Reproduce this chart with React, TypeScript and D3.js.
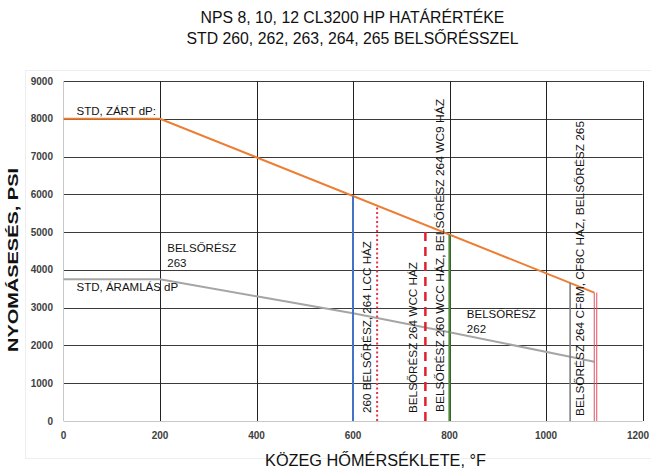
import React from "react";
import * as d3 from "d3";

const titleLines = ["NPS 8, 10, 12 CL3200 HP HATÁRÉRTÉKE", "STD 260, 262, 263, 264, 265 BELSŐRÉSSZEL"];
const xTicks = [0, 200, 400, 600, 800, 1000, 1200];
const yTicks = [0, 1000, 2000, 3000, 4000, 5000, 6000, 7000, 8000, 9000];

const closedTemps = [0, 200, 1100];
const closedDP = [8000, 8000, 3400];
const flowTemps = [0, 200, 400, 600, 800, 1050, 1100];
const flowDP = [3750, 3750, 3300, 2850, 2350, 1700, 1570];

const limitTemps = [600, 650, 750, 800, 1050, 1100];
const limitTops = [5950, 5700, 5050, 4930, 3650, 3400];
const limitColors = ["#4472C4", "#E8334A", "#E0202E", "#4E8A3A", "#7F7F7F", "#E05060"];
const limitDash = ["", "2,2.5", "9,6", "", "", ""];
const limitWidth = [2, 2, 2.5, 2.2, 1.6, 1];

const vLabels = [
  "260 BELSŐRÉSZ, 264 LCC HÁZ",
  "BELSŐRÉSZ 264 WCC HÁZ",
  "BELSŐRÉSZ 260 WCC HÁZ, BELSŐRÉSZ 264 WC9 HÁZ",
  "BELSŐRÉSZ 264 CF8M, CF8C HÁZ, BELSŐRÉSZ 265",
];
const vLabelTemps = [629, 724, 780, 1070];

const FONT = "'Liberation Sans', Arial, sans-serif";

export default function App() {
  const W = 651, H = 468;
  const x = d3.scaleLinear().domain([0, 1200]).range([63.5, 642.5]);
  const y = d3.scaleLinear().domain([0, 9000]).range([421, 81]);
  const line = d3.line<[number, number]>().x(d => x(d[0])).y(d => y(d[1]));
  const closed = closedTemps.map((t, i) => [t, closedDP[i]] as [number, number]);
  const flow = flowTemps.map((t, i) => [t, flowDP[i]] as [number, number]);
  const vLens = [172, 151, 313, 295];
  const vBottoms = [413, 413, 412, 416];

  return (
    <div style={{ position: "absolute", left: 0, top: 0 }}>
      <svg width={W} height={H} style={{ display: "block", fontFamily: FONT }}>
        <rect width={W} height={H} fill="#fff" />
        <rect x={25.5} y={70.5} width={640} height={388} fill="none" stroke="#eeeeee" />
        {titleLines.map((t, i) => (
          <text key={i} x={352.5} y={23 + i * 21} textAnchor="middle" fontSize={15.8} fill="#111">{t}</text>
        ))}
        {yTicks.filter(v => v > 0).map(v => (
          <line key={v} x1={x(0)} x2={x(1200)} y1={Math.round(y(v)) + 0.5} y2={Math.round(y(v)) + 0.5} stroke="#3a3a3a" strokeWidth={1} />
        ))}
        {xTicks.filter(v => v > 0).map(v => (
          <line key={v} x1={Math.round(x(v)) + 0.5} x2={Math.round(x(v)) + 0.5} y1={y(9000)} y2={y(0)} stroke="#222" strokeWidth={1} />
        ))}
        <line x1={x(0)} x2={x(0)} y1={y(9000)} y2={y(0)} stroke="#c8c8c8" />
        <line x1={x(0)} x2={x(1200)} y1={y(0) + 0.5} y2={y(0) + 0.5} stroke="#c8c8c8" />
        {yTicks.map(v => (
          <text key={v} x={53} y={y(v) + 3.5} textAnchor="end" fontSize={10} fontWeight="bold" fill="#404040">{v}</text>
        ))}
        {xTicks.map(v => (
          <text key={v} x={Math.min(x(v), 638)} y={439} textAnchor="middle" fontSize={10} fontWeight="bold" fill="#404040">{v}</text>
        ))}
        <path d={line(flow) || ""} fill="none" stroke="#A5A5A5" strokeWidth={2} />
        <path d={line(closed) || ""} fill="none" stroke="#ED7D31" strokeWidth={2} />
        {limitTemps.map((t, i) => (
          <line key={t} x1={x(t)} x2={x(t)} y1={y(0)} y2={y(limitTops[i])} stroke={limitColors[i]} strokeWidth={limitWidth[i]} strokeDasharray={limitDash[i] || undefined} />
        ))}
        <line x1={x(1100) + 2.5} x2={x(1100) + 2.5} y1={y(0)} y2={y(limitTops[5])} stroke="#E05060" strokeWidth={1} />
        <text x={x(27)} y={y(8000) - 4} fontSize={11.5} fill="#111">STD, ZÁRT dP:</text>
        <text x={x(27)} y={y(3750) + 12} fontSize={11.5} fill="#111">STD, ÁRAMLÁS dP</text>
        <text x={x(215)} y={252} fontSize={11.5} fill="#111">BELSŐRÉSZ</text>
        <text x={x(215)} y={267} fontSize={11.5} fill="#111">263</text>
        <text x={x(836)} y={318} fontSize={11.5} fill="#111">BELSŐRÉSZ</text>
        <text x={x(836)} y={333} fontSize={11.5} fill="#111">262</text>
        {vLabels.map((t, i) => (
          <text key={i} transform={`translate(${x(vLabelTemps[i])},${vBottoms[i]}) rotate(-90)`} dy="0.36em" fontSize={11.3} fill="#111" textLength={vLens[i]} lengthAdjust="spacingAndGlyphs">{t}</text>
        ))}
        <text transform={`translate(13,260) rotate(-90)`} dy="0.36em" textAnchor="middle" fontSize={15} fontWeight="bold" fill="#111" textLength={184} lengthAdjust="spacingAndGlyphs">NYOMÁSESÉS, PSI</text>
        <text x={375.5} y={466} textAnchor="middle" fontSize={16.3} fill="#111">KÖZEG HŐMÉRSÉKLETE, °F</text>
      </svg>
    </div>
  );
}
